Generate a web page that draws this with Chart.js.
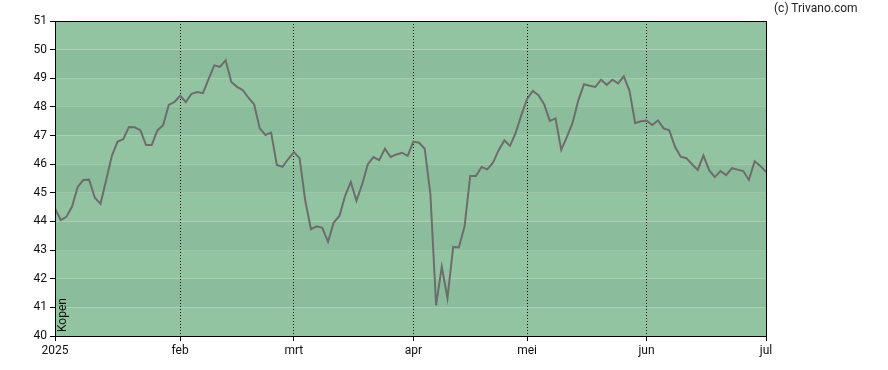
<!DOCTYPE html>
<html>
<head>
<meta charset="utf-8">
<script src="https://cdn.jsdelivr.net/npm/chart.js@4"></script>
<style>
  html, body { margin: 0; padding: 0; background: #fff; }
  #wrap { position: relative; width: 888px; height: 370px; }
  #credit { position: absolute; left: 774px; top: 1px; font: 12px Roboto, "Liberation Sans", sans-serif; color: #222; }
</style>
</head>
<body>
<div id="wrap">
  <canvas id="priceChart" width="888" height="370"></canvas>
  <div id="credit">(c) Trivano.com</div>
</div>
<script>
// ============================
// DATA (one value per trading day, jan 2 .. jul 1 2025)
// ============================
const prices = [
  44.45, 44.05, 44.16, 44.52, 45.21, 45.45, 45.46, 44.83, 44.62, 45.45,
  46.29, 46.79, 46.87, 47.30, 47.29, 47.19, 46.67, 46.67, 47.18, 47.36,
  48.07, 48.17, 48.39, 48.17, 48.46, 48.52, 48.48, 48.97, 49.45, 49.40,
  49.63, 48.87, 48.70, 48.59, 48.32, 48.09, 47.25, 47.02, 47.10, 45.97,
  45.91, 46.18, 46.42, 46.21, 44.72, 43.73, 43.83, 43.78, 43.29, 43.96,
  44.19, 44.89, 45.38, 44.72, 45.30, 46.00, 46.25, 46.14, 46.54, 46.25,
  46.34, 46.40, 46.29, 46.79, 46.75, 46.54, 44.95, 41.07, 42.42, 41.32,
  43.11, 43.09, 43.82, 45.59, 45.59, 45.90, 45.82, 46.05, 46.49, 46.83,
  46.64, 47.10, 47.72, 48.28, 48.56, 48.41, 48.09, 47.51, 47.60, 46.50,
  46.95, 47.45, 48.23, 48.79, 48.74, 48.70, 48.95, 48.77, 48.95, 48.82,
  49.07, 48.56, 47.43, 47.50, 47.52, 47.37, 47.53, 47.25, 47.18, 46.61,
  46.26, 46.21, 46.00, 45.80, 46.30, 45.79, 45.55, 45.76, 45.62, 45.86,
  45.81, 45.76, 45.45, 46.10, 45.94, 45.73,
];
const monthLabels = ["2025", "feb", "mrt", "apr", "mei", "jun", "jul"];
const monthStartIdx = [0, 22, 42, 63, 83, 104, 125];
const yTicks = [40, 41, 42, 43, 44, 45, 46, 47, 48, 49, 50, 51];

const points = prices.map((v, i) => ({ x: i, y: v }));

// ============================
// PLOT BACKGROUND: alternating bands + box
// ============================
const bandsPlugin = {
  id: "bands",
  beforeDraw(chart) {
    const { ctx, chartArea: a, scales } = chart;
    ctx.save();
    for (let v = 40; v < 51; v++) {
      const top = scales.y.getPixelForValue(v + 1);
      const bottom = scales.y.getPixelForValue(v);
      ctx.fillStyle = v % 2 === 1 ? "#8bbd9c" : "#93c4a2";
      ctx.fillRect(a.left, top, a.right - a.left, bottom - top);
    }
    ctx.restore();
  },
  afterDraw(chart) {
    const { ctx, chartArea: a } = chart;
    ctx.save();
    ctx.strokeStyle = "#000";
    ctx.lineWidth = 1;
    ctx.strokeRect(Math.round(a.left) + 0.5, Math.round(a.top) + 0.5,
      Math.round(a.right - a.left), Math.round(a.bottom - a.top));
    // "Kopen" label inside the plot, lower left
    ctx.translate(a.left + 8, a.bottom - 4);
    ctx.rotate(-Math.PI / 2);
    ctx.fillStyle = "#111";
    ctx.font = "12px Roboto, 'Liberation Sans', sans-serif";
    ctx.textBaseline = "middle";
    ctx.fillText("Kopen", 0, 0);
    ctx.restore();
  },
};

const ctx = document.getElementById("priceChart").getContext("2d");

const myChart = new Chart(ctx, {
  type: "line",
  data: {
    datasets: [
      {
        data: points,
        borderColor: "#6d6d6d",
        borderWidth: 2,
        pointRadius: 0,
        tension: 0,
      },
    ],
  },
  options: {
    responsive: false,
    animation: false,
    layout: { padding: { top: 21, right: 122, bottom: 0, left: 0 } },
    plugins: {
      legend: { display: false },
      tooltip: { enabled: false },
    },
    scales: {
      x: {
        type: "linear",
        min: 0,
        max: 125,
        afterBuildTicks: (scale) => {
          scale.ticks = monthStartIdx.map((v) => ({ value: v }));
        },
        afterFit: (scale) => { scale.height = 34; },
        ticks: {
          autoSkip: false,
          maxRotation: 0,
          padding: 3,
          color: "#111",
          font: { family: "Roboto, 'Liberation Sans', sans-serif", size: 12 },
          callback: (v) => monthLabels[monthStartIdx.indexOf(v)],
        },
        grid: {
          color: (c) => (c.index === 0 || c.index === monthStartIdx.length - 1 ? "rgba(0,0,0,0)" : "#000"),
          tickColor: "#000",
          tickLength: 5,
          tickBorderDash: [],
          lineWidth: 1,
        },
        border: { color: "#000", width: 1, dash: [1, 2] },
      },
      y: {
        min: 40,
        max: 51,
        afterBuildTicks: (scale) => {
          scale.ticks = yTicks.map((v) => ({ value: v }));
        },
        afterFit: (scale) => { scale.width = 55; },
        ticks: {
          padding: 3,
          color: "#111",
          font: { family: "Roboto, 'Liberation Sans', sans-serif", size: 12 },
        },
        grid: {
          drawOnChartArea: false,
          tickColor: "#000",
          tickLength: 5,
        },
        border: { color: "#000", width: 1 },
      },
    },
  },
  plugins: [bandsPlugin],
});
</script>
</body>
</html>
